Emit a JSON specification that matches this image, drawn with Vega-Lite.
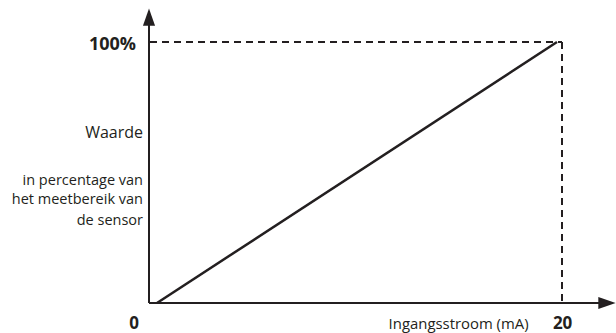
{
  "$schema": "https://vega.github.io/schema/vega-lite/v6.json",
  "width": 616,
  "height": 333,
  "padding": 0,
  "autosize": {"type": "none"},
  "background": "white",
  "config": {"view": {"stroke": null}},
  "datasets": {
    "curve": [
      {"current": 0, "value": 0},
      {"current": 20, "value": 100}
    ],
    "segments": [
      {"kind": "axis", "x1": -0.4, "y1": 0, "x2": -0.4, "y2": 108.5},
      {"kind": "axis", "x1": -0.4, "y1": 0, "x2": 22.2, "y2": 0},
      {"kind": "dash", "x1": -0.35, "y1": 100, "x2": 20.25, "y2": 100},
      {"kind": "dash", "x1": 20.25, "y1": 100, "x2": 20.25, "y2": 0}
    ],
    "arrows": [
      {"dir": "up", "x": -0.4, "y": 109.5},
      {"dir": "right", "x": 22.5, "y": 0}
    ],
    "labels": [
      {"text": "100%", "x": -1.05, "y": 96.9, "style": "boldright"},
      {"text": "0", "x": -1.15, "y": -9.8, "style": "boldcenter"},
      {"text": "20", "x": 20.28, "y": -9.8, "style": "boldcenter"},
      {"text": "Ingangsstroom (mA)", "x": 15.08, "y": -9.96, "style": "center"},
      {"text": "Waarde", "x": -0.7, "y": 63.2, "style": "title"},
      {"text": "in percentage van", "x": -0.7, "y": 45.2, "style": "right"},
      {"text": "het meetbereik van", "x": -0.7, "y": 37.9, "style": "right"},
      {"text": "de sensor", "x": -0.7, "y": 29.9, "style": "right"}
    ]
  },
  "layer": [
    {
      "data": {"name": "segments"},
      "mark": {"type": "rule", "color": "#231f20", "strokeWidth": 2},
      "encoding": {
        "x": {"field": "x1", "type": "quantitative", "scale": {"domain": [-7.85, 22.95], "nice": false, "zero": false}, "axis": null},
        "y": {"field": "y1", "type": "quantitative", "scale": {"domain": [-11.494, 116.092], "nice": false, "zero": false}, "axis": null},
        "x2": {"field": "x2"},
        "y2": {"field": "y2"},
        "strokeDash": {"condition": {"test": "datum.kind === 'dash'", "value": [7, 5]}, "value": [1, 0]}
      }
    },
    {
      "data": {"name": "curve"},
      "mark": {"type": "line", "color": "#231f20", "strokeWidth": 2.5},
      "encoding": {
        "x": {"field": "current", "type": "quantitative"},
        "y": {"field": "value", "type": "quantitative"}
      }
    },
    {
      "data": {"name": "arrows"},
      "mark": {"type": "point", "filled": true, "color": "#231f20", "opacity": 1, "size": 300},
      "encoding": {
        "x": {"field": "x", "type": "quantitative"},
        "y": {"field": "y", "type": "quantitative"},
        "shape": {
          "field": "dir",
          "type": "nominal",
          "scale": {"domain": ["up", "right"], "range": ["M0,-1L0.7,1L-0.7,1Z", "M1,0L-1,0.69L-1,-0.69Z"]},
          "legend": null
        }
      }
    },
    {
      "data": {"name": "labels"},
      "transform": [{"filter": "datum.style === 'boldright'"}],
      "mark": {"type": "text", "color": "#231f20", "font": "Open Sans", "fontWeight": "bold", "fontSize": 18, "align": "right", "baseline": "alphabetic"},
      "encoding": {
        "x": {"field": "x", "type": "quantitative"},
        "y": {"field": "y", "type": "quantitative"},
        "text": {"field": "text"}
      }
    },
    {
      "data": {"name": "labels"},
      "transform": [{"filter": "datum.style === 'boldcenter'"}],
      "mark": {"type": "text", "color": "#231f20", "font": "Open Sans", "fontWeight": "bold", "fontSize": 17, "align": "center", "baseline": "alphabetic"},
      "encoding": {
        "x": {"field": "x", "type": "quantitative"},
        "y": {"field": "y", "type": "quantitative"},
        "text": {"field": "text"}
      }
    },
    {
      "data": {"name": "labels"},
      "transform": [{"filter": "datum.style === 'center'"}],
      "mark": {"type": "text", "color": "#231f20", "font": "Open Sans", "fontSize": 14.9, "align": "center", "baseline": "alphabetic"},
      "encoding": {
        "x": {"field": "x", "type": "quantitative"},
        "y": {"field": "y", "type": "quantitative"},
        "text": {"field": "text"}
      }
    },
    {
      "data": {"name": "labels"},
      "transform": [{"filter": "datum.style === 'title'"}],
      "mark": {"type": "text", "color": "#231f20", "font": "Open Sans", "fontSize": 16, "align": "right", "baseline": "alphabetic"},
      "encoding": {
        "x": {"field": "x", "type": "quantitative"},
        "y": {"field": "y", "type": "quantitative"},
        "text": {"field": "text"}
      }
    },
    {
      "data": {"name": "labels"},
      "transform": [{"filter": "datum.style === 'right'"}],
      "mark": {"type": "text", "color": "#231f20", "font": "Open Sans", "fontSize": 14.5, "align": "right", "baseline": "alphabetic"},
      "encoding": {
        "x": {"field": "x", "type": "quantitative"},
        "y": {"field": "y", "type": "quantitative"},
        "text": {"field": "text"}
      }
    }
  ]
}
